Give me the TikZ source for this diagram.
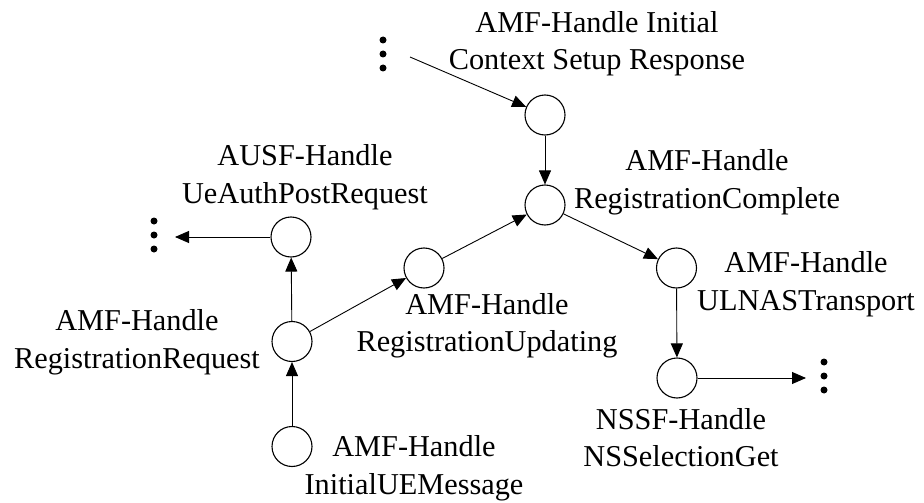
\documentclass[tikz,border=0pt]{standalone}
\usepackage{fontspec}
\setmainfont{Liberation Serif}
\usetikzlibrary{arrows.meta}
\begin{document}
\begin{tikzpicture}[x=1pt,y=-1pt,
  state/.style={circle,draw,line width=1.1pt,minimum size=40pt,inner sep=0pt,fill=white},
  lbl/.style={align=center,anchor=base,inner sep=0pt,font=\fontsize{30.3}{37.5}\selectfont},
  flow/.style={line width=0.9pt,-{Triangle[length=14pt,width=12pt]}},
  dotr/.style={radius=3.5pt}]
\useasboundingbox (0,0) rectangle (924,503);

% handler states
\node[state] (icsr)  at (545,115) {};
\node[state] (rc)    at (545,205) {};
\node[state] (ru)    at (424,268) {};
\node[state] (ulnas) at (676.5,268) {};
\node[state] (ausf)  at (291,237) {};
\node[state] (rr)    at (292,341.5) {};
\node[state] (iue)   at (292,446.5) {};
\node[state] (nss)   at (677,378) {};

% continuation marks
\foreach \yy in {40,54,68} \fill[dotr] (383,\yy) circle;
\foreach \yy in {221,235,249} \fill[dotr] (154,\yy) circle;
\foreach \yy in {362,376,390} \fill[dotr] (824,\yy) circle;
\coordinate (intop) at (410,57);
\coordinate (outleft) at (175,237);
\coordinate (outright) at (806,378);

% labels (anchored at the baseline of the second line)
\node[lbl] (l-icsr)  at (597,70)    {AMF-Handle Initial\\Context Setup Response};
\node[lbl] (l-rc)    at (707,208.3) {AMF-Handle\\RegistrationComplete};
\node[lbl] (l-ulnas) at (806,310)   {AMF-Handle\\ULNASTransport};
\node[lbl] (l-ausf)  at (305,203.3) {AUSF-Handle\\UeAuthPostRequest};
\node[lbl] (l-ru)    at (487,351.7) {AMF-Handle\\RegistrationUpdating};
\node[lbl] (l-rr)    at (137,368.3) {AMF-Handle\\RegistrationRequest};
\node[lbl] (l-iue)   at (414,494)   {AMF-Handle\\InitialUEMessage};
\node[lbl] (l-nss)   at (681,466.7) {NSSF-Handle\\NSSelectionGet};

% transitions
\draw[flow] (intop) -- (icsr);
\draw[flow] (icsr) -- (rc);
\draw[flow] (ru) -- (rc);
\draw[flow] (rc) -- (ulnas);
\draw[flow] (ulnas) -- (nss);
\draw[flow] (nss) -- (outright);
\draw[flow] (ausf) -- (outleft);
\draw[flow] (rr) -- (ausf);
\draw[flow] (rr) -- (ru);
\draw[flow] (iue) -- (rr);
\end{tikzpicture}
\end{document}
